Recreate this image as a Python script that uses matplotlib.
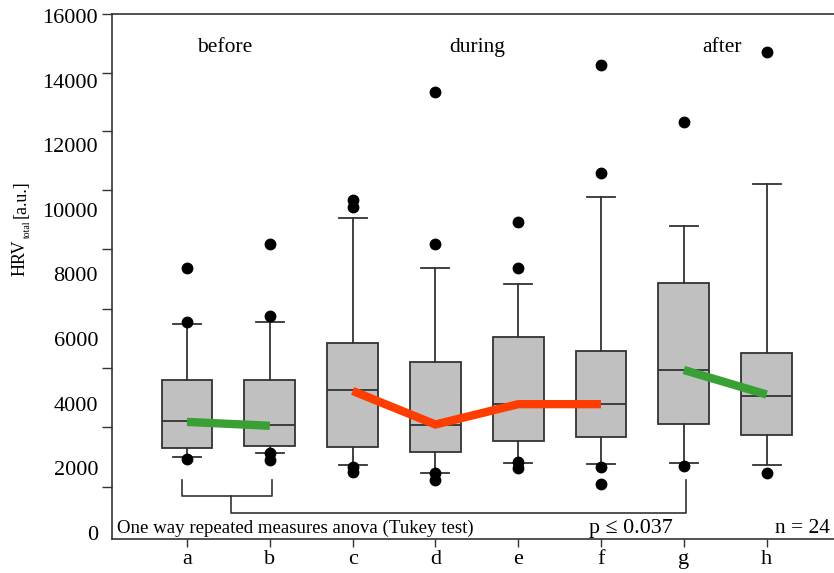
import matplotlib
matplotlib.use('Agg')
import matplotlib.pyplot as plt
import numpy as np

plt.rcParams['font.family'] = 'Liberation Serif'

# values
labels = ['a', 'b', 'c', 'd', 'e', 'f', 'g', 'h']
q1 = [2630, 2690, 2660, 2490, 2850, 2970, 3360, 3020]
med = [3460, 3320, 4420, 3320, 3980, 3970, 5040, 4230]
q3 = [4730, 4730, 5870, 5280, 6070, 5640, 7740, 5570]
whislo = [2330, 2470, 2090, 1840, 2150, 2130, 2160, 2090]
whishi = [6450, 6540, 9740, 8210, 7700, 10410, 9500, 10790]
fliers = [[2280, 6540, 8190],
          [2250, 2470, 6720, 8940],
          [1880, 2020, 10080, 10310],
          [1630, 1850, 8950, 13670],
          [1990, 2200, 8190, 9640],
          [1510, 2020, 11140, 14490],
          [2060, 12720],
          [1850, 14910]]

# trend lines drawn over the boxes
green_1 = [3430, 3310]     # a -> b
red_line = [4390, 3350, 3980, 3980]  # c -> f
green_2 = [5040, 4280]     # g -> h

phases = ['before', 'during', 'after']
phase_x = [1.46, 4.5, 7.46]

pos = np.arange(1, len(labels) + 1)

fig = plt.figure(figsize=(8.34, 5.73), dpi=100)
ax = fig.add_axes([112/834, 34/573, 1 - 112/834, 525/573])

stats = []
for i in range(len(labels)):
    stats.append({'med': med[i], 'q1': q1[i], 'q3': q3[i],
                  'whislo': whislo[i], 'whishi': whishi[i],
                  'fliers': fliers[i], 'label': labels[i]})

edge = '#333333'
ax.bxp(stats, positions=pos, widths=0.615, patch_artist=True,
       boxprops=dict(facecolor='#c0c0c0', edgecolor=edge, linewidth=1.3),
       medianprops=dict(color=edge, linewidth=1.3),
       whiskerprops=dict(color=edge, linewidth=1.3),
       capprops=dict(color=edge, linewidth=1.3),
       capwidths=0.34,
       flierprops=dict(marker='o', markerfacecolor='black',
                       markeredgecolor='black', markersize=7.5))

ax.plot(pos[0:2], green_1, color='#38a035', linewidth=6, solid_capstyle='butt', zorder=5)
ax.plot(pos[2:6], red_line, color='#ff3d00', linewidth=6, solid_capstyle='butt',
        solid_joinstyle='miter', zorder=5)
ax.plot(pos[6:8], green_2, color='#38a035', linewidth=6, solid_capstyle='butt', zorder=5)

# significance bracket
bc = '#333333'
ax.plot([0.94, 0.94, 2.03, 2.03], [1630, 1130, 1130, 1630], color=bc, lw=1.2)
ax.plot([1.53, 1.53, 7.03, 7.03], [1130, 600, 600, 1630], color=bc, lw=1.2)

for name, xp in zip(phases, phase_x):
    ax.text(xp, 14900, name, ha='center', va='baseline', fontsize=15.5)

ax.text(0.155, 0, 'One way repeated measures anova (Tukey test)',
        ha='left', va='baseline', fontsize=13.6)
ax.text(5.86, 0, 'p \u2264 0.037', ha='left', va='baseline', fontsize=15.8)
ax.text(8.77, 0, 'n = 24', ha='right', va='baseline', fontsize=15.5)

ax.set_xlim(0.094, 8.814)
ax.set_ylim(-200, 16075)
ax.set_xticks(pos)
ax.set_xticklabels(labels, fontsize=16)
ax.tick_params(axis='x', direction='out', length=6, width=1, color=edge, pad=2)

ax.set_yticks(np.arange(0, 16001, 2000))
ax.set_yticklabels([str(v) for v in range(0, 16001, 2000)], fontsize=16)
ax.tick_params(axis='y', which='major', length=0, pad=10)
ax.set_yticks([1420, 3260, 5090, 6930, 8780, 10620, 12450, 14250, 16075], minor=True)
ax.tick_params(axis='y', which='minor', length=7, width=1, color=edge)

ax.spines['right'].set_visible(False)
for s in ['left', 'top', 'bottom']:
    ax.spines[s].set_color(edge)
    ax.spines[s].set_linewidth(1.2)

# y label built from pieces so the subscript can be small
W, H = 834, 573
r = fig.canvas.get_renderer()
y0 = 276
t1 = fig.text(20/W, 1 - y0/H, 'HRV', rotation=90, ha='center', va='bottom', fontsize=13)
h1 = t1.get_window_extent(r).height
t2 = fig.text(27/W, 1 - (y0 - h1 - 1)/H, 'total', rotation=90, ha='center',
              va='bottom', fontsize=7)
h2 = t2.get_window_extent(r).height
fig.text(21.5/W, 1 - (y0 - h1 - h2 - 4)/H, '[a.u.]', rotation=90, ha='center',
         va='bottom', fontsize=13)

fig.savefig('out.png', dpi=100)
